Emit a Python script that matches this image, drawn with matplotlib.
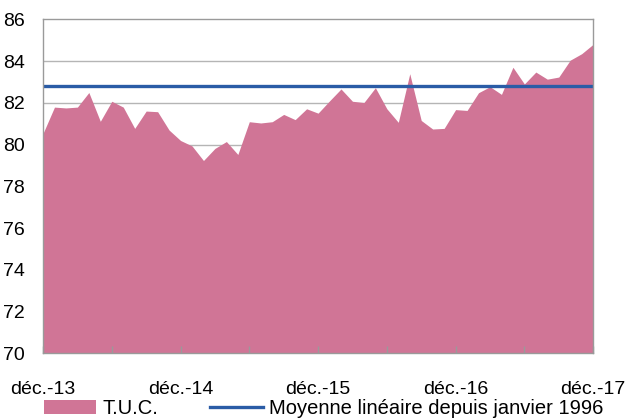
import matplotlib
matplotlib.use("Agg")
import matplotlib.pyplot as plt
from matplotlib.patches import Patch
from matplotlib.lines import Line2D
import numpy as np

plt.rcParams['font.family'] = ['Liberation Sans', 'DejaVu Sans']

# Monthly T.U.C. values, déc. 2013 -> déc. 2017
tuc = [80.54, 81.80, 81.76, 81.80, 82.50, 81.12, 82.08, 81.80, 80.78, 81.61,
       81.58, 80.70, 80.20, 79.94, 79.24, 79.82, 80.15, 79.53, 81.10, 81.04,
       81.10, 81.45, 81.20, 81.72, 81.51, 82.10, 82.67, 82.08, 82.02, 82.73,
       81.72, 81.07, 83.40, 81.16, 80.75, 80.78, 81.68, 81.64, 82.49, 82.78,
       82.41, 83.71, 82.91, 83.48, 83.14, 83.24, 84.05, 84.36, 84.81]
moyenne = 82.83
x_labels = ["déc.-13", "déc.-14", "déc.-15", "déc.-16", "déc.-17"]
y_ticks = [70, 72, 74, 76, 78, 80, 82, 84, 86]

pink = "#D07596"
blue = "#2A5CA6"
grey = "#9A9A9A"

fig = plt.figure(figsize=(6.28, 4.19), dpi=100)
ax = fig.add_axes([0.0685, 0.1568, 0.876, 0.7967])

x = np.arange(len(tuc))
ax.fill_between(x, 70, tuc, color=pink, linewidth=0, zorder=1)
ax.axhline(moyenne, color=blue, linewidth=2.4, zorder=2)
for yv in y_ticks[1:-1]:
    ax.axhline(yv, color="#B5B5B5", linewidth=1.0, zorder=0.3)

ax.set_xlim(0, len(tuc) - 1)
ax.set_ylim(70, 86)
ax.set_yticks(y_ticks)
ax.set_yticklabels([str(v) for v in y_ticks], fontsize=14)
ax.tick_params(axis='y', length=0, pad=13)

ax.set_xticks(np.arange(0, len(tuc), 12))
ax.set_xticklabels(x_labels, fontsize=14)
ax.set_xticks(np.arange(6, len(tuc), 12), minor=True)
ax.tick_params(axis='x', which='both', direction='in', length=5, width=1,
               color=grey, pad=20)

for s in ax.spines.values():
    s.set_color(grey)
    s.set_linewidth(1.0)

handles = [Patch(facecolor=pink, edgecolor='none'),
           Line2D([0], [0], color=blue, linewidth=2.4)]
fig.legend(handles, ["T.U.C.", "Moyenne linéaire depuis janvier 1996"],
           loc='center', bbox_to_anchor=(0.515, 0.026), ncol=2, frameon=False,
           fontsize=14.5, handlelength=2.6, handleheight=0.7,
           handletextpad=0.3, columnspacing=2.6, borderaxespad=0)

fig.savefig("out.png", dpi=100)
